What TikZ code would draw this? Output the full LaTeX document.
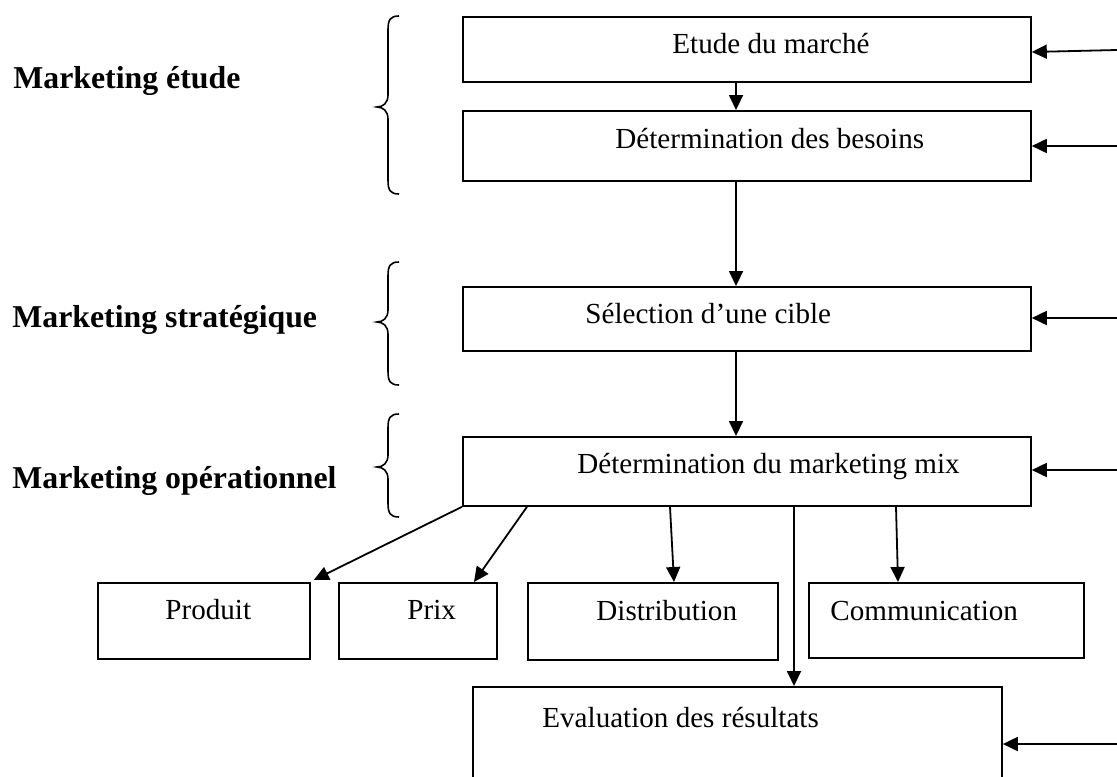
\documentclass[tikz,border=0pt]{standalone}
\usepackage{fontspec}
\setmainfont{Liberation Serif}
\usetikzlibrary{arrows.meta,calc}

\tikzset{
  box/.style={draw, line width=0.9pt, minimum width=#1, inner sep=0pt, anchor=north west},
  txt/.style={inner sep=0pt, anchor=base west, font=\fontsize{14.55}{17}\selectfont},
  lvl/.style={inner sep=0pt, anchor=base west, font=\fontsize{15.9}{18}\selectfont\bfseries},
  arr/.style={line width=0.9pt, -{Triangle[length=7.5pt, width=7pt]}},
  wire/.style={line width=0.9pt},
  brace/.style={line width=0.8pt},
}

% left curly brace: top end, vertical stem, tip, bottom end
\newcommand{\lbracepath}[4]{%
  % #1 = x of ends, #2 = top y, #3 = tip y, #4 = bottom y
  \draw[brace] (#1,#2) .. controls ({#1-9},{#2}) and ({#1-11},{#2+4}) .. ({#1-11},{#2+14})
    -- ({#1-11},{#3-12}) .. controls ({#1-11},{#3-4}) and ({#1-16},{#3}) .. ({#1-22},{#3})
    .. controls ({#1-16},{#3}) and ({#1-11},{#3+4}) .. ({#1-11},{#3+12})
    -- ({#1-11},{#4-14}) .. controls ({#1-11},{#4-4}) and ({#1-9},{#4}) .. (#1,#4);}

\begin{document}
\begin{tikzpicture}[x=0.5pt, y=-0.5pt]
\useasboundingbox (0,0) rectangle (1117,776);
\clip (0,0) rectangle (1117,776);

% process boxes
\node[box=284pt, minimum height=32.5pt] (etude) at (462,16) {};
\node[box=284pt, minimum height=35pt] (besoins) at (462,110) {};
\node[box=284pt, minimum height=32pt] (selection) at (462,286) {};
\node[box=284pt, minimum height=34.5pt] (mix) at (462,436) {};
\node[box=106pt, minimum height=38pt] (produit) at (97,582) {};
\node[box=79pt, minimum height=38pt] (prix) at (338,582) {};
\node[box=125pt, minimum height=38.5pt] (distribution) at (527,582) {};
\node[box=137.5pt, minimum height=37.5pt] (communication) at (808,582) {};
\node[box=264.5pt, minimum height=60pt] (evaluation) at (472,686) {};

% box texts
\node[txt] (etudeT) at (672,53) {Etude du marché};
\node[txt] (besoinsT) at (615,148) {Détermination des besoins};
\node[txt] (selectionT) at (585,323) {Sélection d’une cible};
\node[txt] (mixT) at (577,473) {Détermination du marketing mix};
\node[txt] (produitT) at (165,619) {Produit};
\node[txt] (prixT) at (407,619) {Prix};
\node[txt] (distributionT) at (596,620) {Distribution};
\node[txt] (communicationT) at (830,620) {Communication};
\node[txt] (evaluationT) at (542,727) {Evaluation des résultats};

% level labels
\node[lvl] (etudeL) at (13,88) {Marketing étude};
\node[lvl] (strategL) at (12,327) {Marketing stratégique};
\node[lvl] (operL) at (12,488) {Marketing opérationnel};

% braces
\lbracepath{399}{16}{107}{194}
\lbracepath{399}{262}{322}{385}
\lbracepath{399}{414}{467}{517}

% main chain
\draw[arr] (etude.south -| 736,0) -- (besoins.north -| 736,0);
\draw[arr] (besoins.south -| 736,0) -- (selection.north -| 736,0);
\draw[arr] (selection.south -| 736,0) -- (mix.north -| 736,0);

% marketing mix branches
\draw[arr] (mix.south west) -- ($(produit.north east)+(3,-2)$);
\draw[arr] ($(mix.south west)+(65,0)$) -- ($(prix.north west)+(136,0)$);
\draw[arr] ($(mix.south west)+(208,0)$) -- ($(distribution.north west)+(147,0)$);
\draw[arr] ($(mix.south west)+(332,0)$) -- (evaluation.north -| 794,0);
\draw[arr] ($(mix.south west)+(434,0)$) -- ($(communication.north west)+(90,0)$);

% feedback inputs from the right
\coordinate (inEtude) at (1117,50);
\coordinate (inBesoins) at (1117,146);
\coordinate (inSelection) at (1117,318);
\coordinate (inMix) at (1117,470);
\coordinate (inEval) at (1117,744);
\draw[arr] (inEtude) -- (etude.east |- 0,52);
\draw[arr] (inBesoins) -- (inBesoins -| besoins.east);
\draw[arr] (inSelection) -- (inSelection -| selection.east);
\draw[arr] (inMix) -- (inMix -| mix.east);
\draw[arr] (inEval) -- (inEval -| evaluation.east);
\end{tikzpicture}
\end{document}
